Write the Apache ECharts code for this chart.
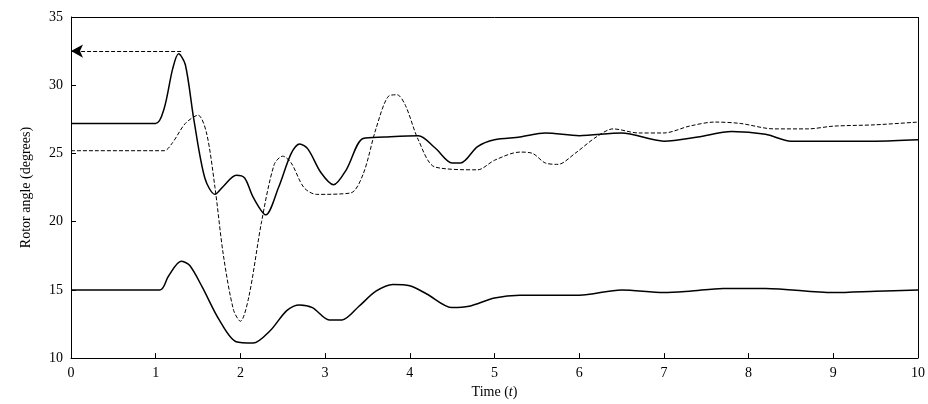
<!DOCTYPE html>
<html><head><meta charset="utf-8">
<script src="https://cdn.jsdelivr.net/npm/echarts@6/dist/echarts.min.js"></script>
<style>html,body{margin:0;background:#fff}#c{width:928px;height:404px}</style>
</head><body><div id="c"></div>
<script>
// time (s), rotor angle (degrees)
var upperSolid = [[0,27.2],[1.0,27.2],[1.1,28.3],[1.2,31.2],[1.27,32.3],[1.35,31.5],[1.45,27.5],[1.58,23.2],[1.7,22],[1.8,22.6],[1.95,23.4],[2.05,23.2],[2.15,21.8],[2.3,20.5],[2.45,22.5],[2.6,25],[2.7,25.7],[2.8,25.3],[2.95,23.6],[3.1,22.7],[3.25,23.8],[3.45,26.1],[3.7,26.2],[4.1,26.3],[4.3,25.4],[4.5,24.3],[4.6,24.3],[4.8,25.5],[5.0,26.0],[5.3,26.2],[5.6,26.5],[6.0,26.3],[6.5,26.5],[7.0,25.9],[7.4,26.2],[7.8,26.6],[8.2,26.4],[8.5,25.9],[9.5,25.9],[10,26.0]];
var dashed = [[0,25.2],[1.1,25.2],[1.2,25.8],[1.35,27.2],[1.5,27.8],[1.6,26.5],[1.7,22.5],[1.8,17.5],[1.92,13.5],[2.0,12.7],[2.1,14.5],[2.25,20],[2.4,24.2],[2.5,24.8],[2.6,24.3],[2.75,22.5],[2.9,22],[3.3,22.1],[3.45,23.5],[3.6,26.8],[3.75,29.2],[3.85,29.3],[3.95,28.5],[4.1,26],[4.3,24],[4.8,23.8],[5.0,24.5],[5.3,25.1],[5.45,25],[5.6,24.3],[5.75,24.2],[5.95,25],[6.2,26.2],[6.4,26.8],[6.7,26.5],[7.0,26.5],[7.3,27],[7.6,27.3],[7.9,27.2],[8.3,26.8],[8.7,26.8],[9.0,27],[9.5,27.1],[10,27.3]];
var lowerSolid = [[0,15.0],[1.05,15.0],[1.15,16.0],[1.3,17.1],[1.4,16.8],[1.55,15.2],[1.75,12.8],[1.95,11.2],[2.15,11.1],[2.35,12.0],[2.55,13.5],[2.7,13.9],[2.85,13.7],[3.05,12.8],[3.2,12.8],[3.4,13.8],[3.6,14.9],[3.8,15.4],[4.0,15.3],[4.2,14.7],[4.5,13.7],[4.7,13.8],[5.0,14.4],[5.3,14.6],[6.0,14.6],[6.5,15.0],[7.0,14.8],[7.3,14.9],[7.7,15.1],[8.2,15.1],[9.0,14.8],[9.5,14.9],[10,15.0]];
var arrowFrom = [1.3,32.5], arrowTo = [0,32.5];

var font = 'Liberation Serif';
var chart = echarts.init(document.getElementById('c'));
function ln(data, type){
  return {type:'line', data:data, smooth:0.3, symbol:'none',
    lineStyle:{color:'#000', width:type==='dashed'?1:1.5, type:type}};
}
var txt = {fontFamily:font,fontSize:14,color:'#000'};
chart.setOption({
  animation:false,
  grid:{left:71,right:10,top:17,bottom:35},
  xAxis:{type:'value',min:0,max:10,interval:1,
    name:'{a|Time (}{b|t}{a|)}',nameLocation:'middle',nameGap:22,
    nameTextStyle:{rich:{a:txt,b:{fontFamily:font,fontSize:14,color:'#000',fontStyle:'italic'}}},
    axisLine:{lineStyle:{color:'#000'}},axisTick:{inside:true,lineStyle:{color:'#000'}},
    axisLabel:txt,splitLine:{show:false}},
  yAxis:{type:'value',min:10,max:35,interval:5,
    name:'Rotor angle (degrees)',nameLocation:'middle',nameGap:38,
    nameTextStyle:txt,
    axisLine:{lineStyle:{color:'#000'}},axisTick:{inside:true,lineStyle:{color:'#000'}},
    axisLabel:txt,splitLine:{show:false}},
  series:[
    ln(upperSolid,'solid'), ln(dashed,'dashed'), ln(lowerSolid,'solid'),
    {type:'line',data:[],markLine:{silent:true,symbol:['none','arrow'],symbolSize:[10,12],
      lineStyle:{color:'#000',type:'dashed',width:1},label:{show:false},
      data:[[{coord:arrowFrom},{coord:arrowTo}]]}},
    {type:'line',data:[],markLine:{silent:true,symbol:'none',
      lineStyle:{color:'#000',type:'solid',width:1},label:{show:false},
      data:[[{coord:[0,35]},{coord:[10,35]}],[{coord:[10,10]},{coord:[10,35]}]]}}
  ]
});
</script></body></html>
